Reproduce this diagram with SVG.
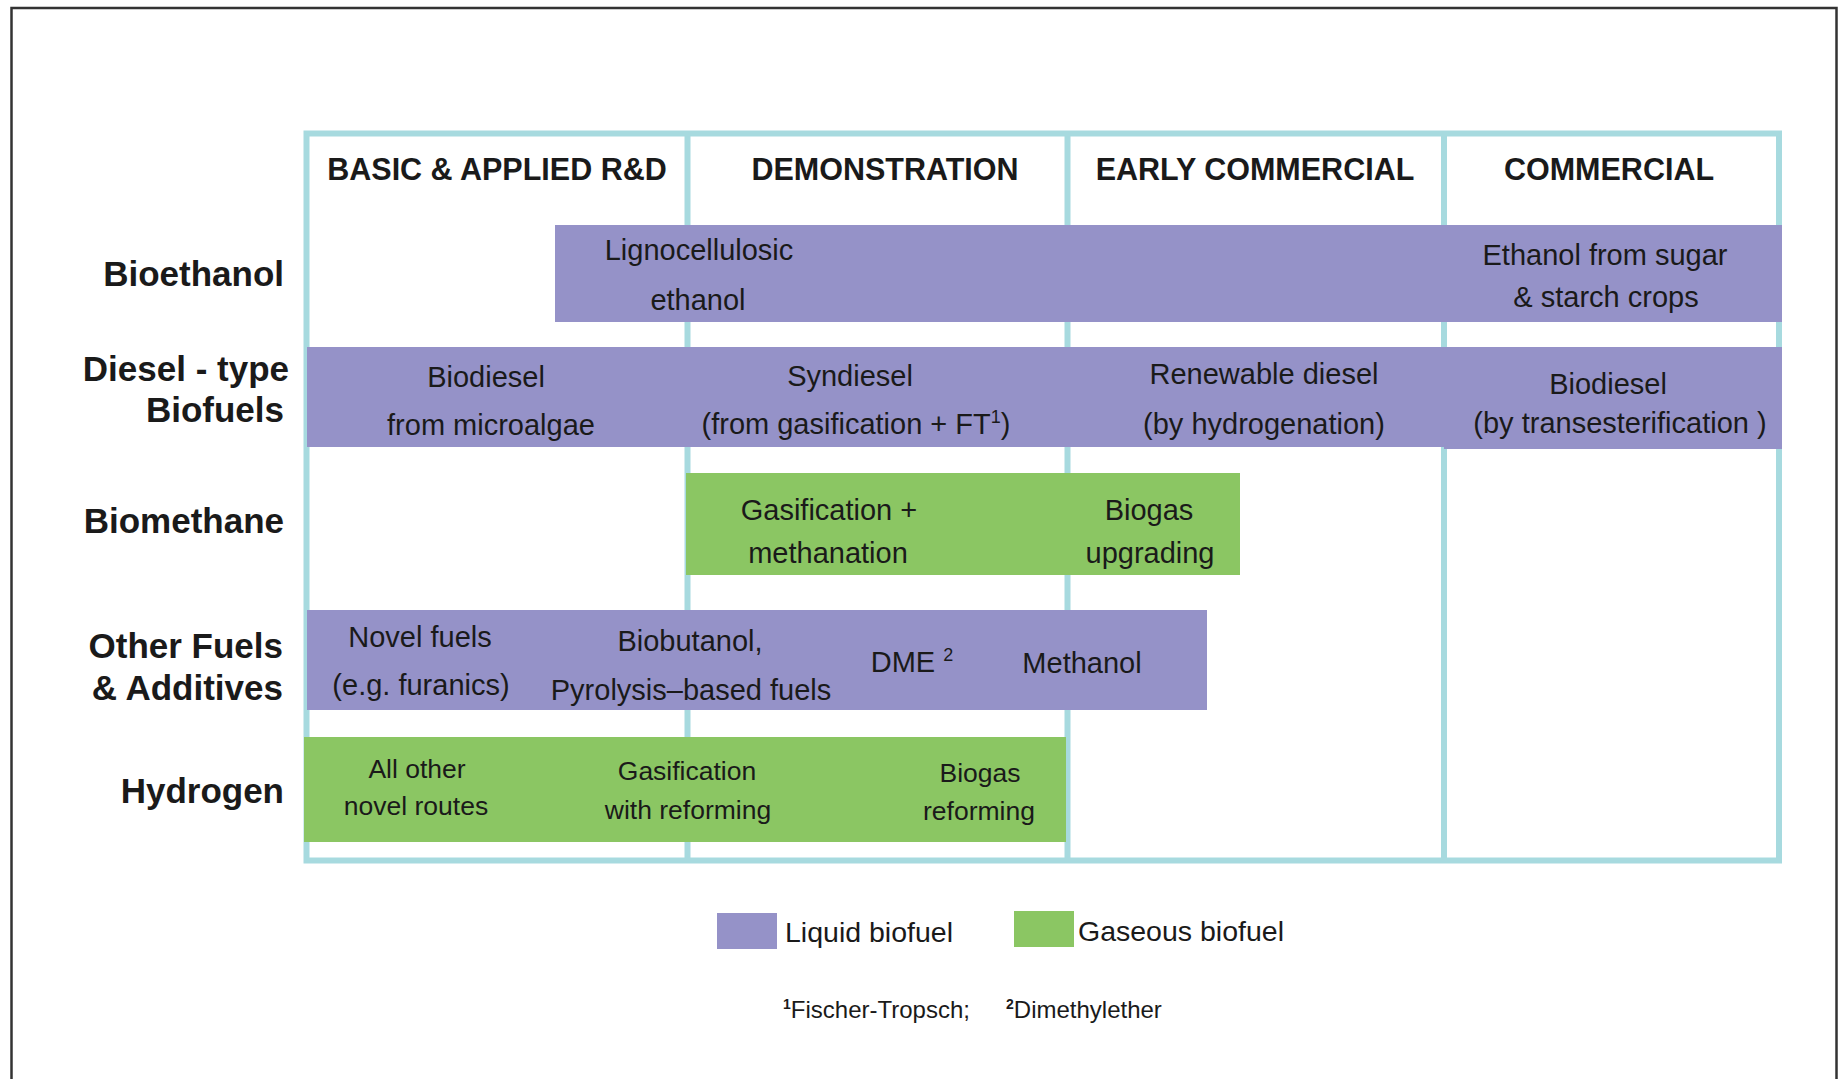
<svg xmlns="http://www.w3.org/2000/svg" width="1841" height="1079" viewBox="0 0 1841 1079">
<style>
.frame{fill:#ffffff;stroke:#333333;stroke-width:2.5}
.grid{fill:none;stroke:#A7DADF;stroke-width:6}
.liq{fill:#9592C8}
.gas{fill:#8BC663}
.hdr{font-family:"Liberation Sans",Arial,sans-serif;font-weight:bold;font-size:30.5px;fill:#1a1a1a;text-anchor:middle}
.row{font-family:"Liberation Sans",Arial,sans-serif;font-weight:bold;font-size:35px;fill:#1a1a1a;text-anchor:end}
.lbl{font-family:"Liberation Sans",Arial,sans-serif;font-size:29px;fill:#1a1a1a;text-anchor:middle}
.sm{font-size:26.5px}
.leg{font-family:"Liberation Sans",Arial,sans-serif;font-size:28.5px;fill:#1a1a1a}
.fn{font-family:"Liberation Sans",Arial,sans-serif;font-size:24px;fill:#1a1a1a}
</style>
<rect class="frame" x="11.5" y="8" width="1825" height="1090"/>

<g id="grid">
  <rect class="grid" x="306.5" y="133.5" width="1472.5" height="727"/>
  <line class="grid" x1="687.5" y1="133" x2="687.5" y2="861"/>
  <line class="grid" x1="1067.5" y1="133" x2="1067.5" y2="861"/>
  <line class="grid" x1="1444" y1="133" x2="1444" y2="861"/>
</g>

<g id="headers">
  <text class="hdr" x="497" y="180">BASIC &amp; APPLIED R&amp;D</text>
  <text class="hdr" x="885" y="180">DEMONSTRATION</text>
  <text class="hdr" x="1255" y="180">EARLY COMMERCIAL</text>
  <text class="hdr" x="1609" y="180">COMMERCIAL</text>
</g>

<g id="row-labels">
  <text class="row" x="284" y="286">Bioethanol</text>
  <text class="row" x="289" y="381">Diesel - type</text>
  <text class="row" x="284" y="422">Biofuels</text>
  <text class="row" x="284" y="533">Biomethane</text>
  <text class="row" x="283" y="658">Other Fuels</text>
  <text class="row" x="283" y="700">&amp; Additives</text>
  <text class="row" x="284" y="803">Hydrogen</text>
</g>

<g id="bar-bioethanol">
  <rect class="liq" x="555" y="225" width="1227" height="97"/>
  <text class="lbl" x="699" y="260">Lignocellulosic</text>
  <text class="lbl" x="698" y="310">ethanol</text>
  <text class="lbl" x="1605" y="265">Ethanol from sugar</text>
  <text class="lbl" x="1606" y="307">&amp; starch crops</text>
</g>

<g id="bar-diesel">
  <rect class="liq" x="307" y="347" width="1475" height="100"/>
  <rect class="liq" x="1444" y="347" width="338" height="102"/>
  <text class="lbl" x="486" y="387">Biodiesel</text>
  <text class="lbl" x="491" y="435">from microalgae</text>
  <text class="lbl" x="850" y="386">Syndiesel</text>
  <text class="lbl" x="856" y="434">(from gasification + FT<tspan font-size="18" dy="-11">1</tspan><tspan dy="11">)</tspan></text>
  <text class="lbl" x="1264" y="384">Renewable diesel</text>
  <text class="lbl" x="1264" y="434">(by hydrogenation)</text>
  <text class="lbl" x="1608" y="394">Biodiesel</text>
  <text class="lbl" x="1620" y="433">(by transesterification )</text>
</g>

<g id="bar-biomethane">
  <rect class="gas" x="686" y="473" width="554" height="102"/>
  <text class="lbl" x="829" y="520">Gasification +</text>
  <text class="lbl" x="828" y="563">methanation</text>
  <text class="lbl" x="1149" y="520">Biogas</text>
  <text class="lbl" x="1150" y="563">upgrading</text>
</g>

<g id="bar-other">
  <rect class="liq" x="307" y="610" width="900" height="100"/>
  <text class="lbl" x="420" y="647">Novel fuels</text>
  <text class="lbl" x="421" y="695">(e.g. furanics)</text>
  <text class="lbl" x="690" y="651">Biobutanol,</text>
  <text class="lbl" x="691" y="700">Pyrolysis–based fuels</text>
  <text class="lbl" x="912" y="672">DME <tspan font-size="18" dy="-11">2</tspan></text>
  <text class="lbl" x="1082" y="673">Methanol</text>
</g>

<g id="bar-hydrogen">
  <rect class="gas" x="304" y="737" width="762" height="105"/>
  <text class="lbl sm" x="417" y="778">All other</text>
  <text class="lbl sm" x="416" y="815">novel routes</text>
  <text class="lbl sm" x="687" y="780">Gasification</text>
  <text class="lbl sm" x="688" y="819">with reforming</text>
  <text class="lbl sm" x="980" y="782">Biogas</text>
  <text class="lbl sm" x="979" y="820">reforming</text>
</g>

<g id="legend">
  <rect class="liq" x="717" y="913" width="60" height="36"/>
  <text class="leg" x="785" y="942">Liquid biofuel</text>
  <rect class="gas" x="1014" y="911" width="60" height="36"/>
  <text class="leg" x="1078" y="941">Gaseous biofuel</text>
</g>

<g id="footnotes">
  <text class="fn" x="783" y="1018"><tspan font-size="14" font-weight="bold" dy="-9">1</tspan><tspan dy="9">Fischer-Tropsch;</tspan></text>
  <text class="fn" x="1006" y="1018"><tspan font-size="14" font-weight="bold" dy="-9">2</tspan><tspan dy="9">Dimethylether</tspan></text>
</g>

<g id="connectors"/>
</svg>
